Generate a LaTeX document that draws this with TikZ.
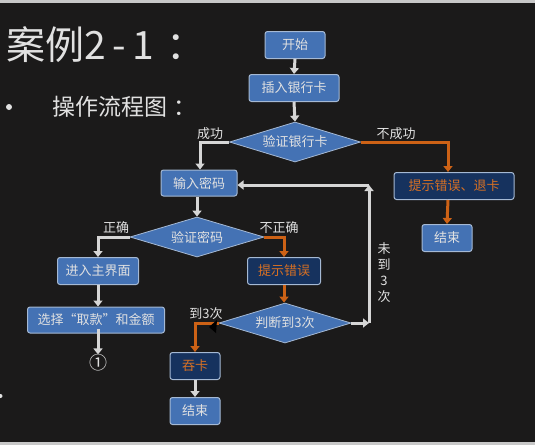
\documentclass[tikz,border=0pt]{standalone}
\usepackage{fontspec}
\newfontfamily\cjk{Noto Sans CJK SC}
\usetikzlibrary{shapes.geometric,arrows.meta}
\definecolor{bg}{RGB}{27,26,26}
\definecolor{strip}{RGB}{200,200,200}
\definecolor{nodeblue}{RGB}{68,114,180}
\definecolor{nodeborder}{RGB}{165,185,212}
\definecolor{darkblue}{RGB}{22,50,94}
\definecolor{orangetxt}{RGB}{214,112,36}
\definecolor{orangeline}{RGB}{205,98,22}
\definecolor{lightline}{RGB}{214,214,214}
\definecolor{txt}{RGB}{225,225,225}
\tikzset{
  box/.style={rectangle, rounded corners=2.5pt, fill=nodeblue, draw=nodeborder, line width=1pt,
    text=txt, font=\cjk\fontsize{13}{15}\selectfont, minimum height=27pt, inner sep=1pt},
  dbox/.style={box, fill=darkblue, text=orangetxt},
  dia/.style={diamond, aspect=3.3, fill=nodeblue, draw=nodeborder, line width=0.8pt,
    text=txt, font=\cjk\fontsize{13}{15}\selectfont, minimum width=132pt, minimum height=40pt, inner sep=0pt},
  warr/.style={draw=lightline, line width=3pt, -{Triangle[width=9pt,length=6pt]}},
  oarr/.style={draw=orangeline, line width=3pt, -{Triangle[width=9pt,length=6pt]}},
  lbl/.style={text=txt, font=\cjk\fontsize{13}{15}\selectfont, inner sep=0pt}
}
\begin{document}
\begin{tikzpicture}[x=1pt,y=-1pt]
\fill[bg] (0,0) rectangle (535,445);
\fill[strip] (0,0) rectangle (535,3);
\fill[strip] (0,442) rectangle (535,445);
\useasboundingbox (0,0) rectangle (535,445);

% title
\node[anchor=west, text=txt, font=\cjk\fontsize{39}{41}\selectfont, inner sep=0pt] (title) at (6,45) {案例2\,-\,1\kern12pt：};
\fill[txt] (9,107) circle (3pt);
\node[anchor=west, text=txt, font=\cjk\fontsize{23}{25}\selectfont, inner sep=0pt] (sub) at (52,107) {操作流程图\kern6pt：};
\fill[txt] (0.5,396) circle (2pt);

% nodes
\node[box, minimum width=60pt] (start) at (295,45) {开始};
\node[box, minimum width=90pt] (insert) at (294,88) {插入银行卡};
\node[dia, minimum width=131pt] (vcard) at (295,142) {验证银行卡};
\node[dbox, minimum width=120pt] (err1) at (454,186) {提示错误、退卡};
\node[box, minimum width=50pt] (end1) at (447,238) {结束};
\node[box, minimum width=76pt, minimum height=26pt] (pwd) at (199,183) {输入密码};
\node[dia, minimum width=134pt] (vpwd) at (197,237) {验证密码};
\node[box, minimum width=81pt] (main) at (98,271) {进入主界面};
\node[dbox, minimum width=73pt] (err2) at (284,271) {提示错误};
\node[dia] (judge) at (285,323) {判断到3次};
\node[dbox, minimum width=50pt] (eat) at (195,366) {吞卡};
\node[box, minimum width=50pt] (end2) at (195,411) {结束};
\node[box, minimum width=137pt, minimum height=26pt] (sel) at (96,320) {选择“取款”和金额};
\node[text=txt, font=\cjk\fontsize{18}{20}\selectfont, inner sep=0pt] (c1) at (98,363) {①};

% labels
\node[lbl] (lsucc) at (210,134) {成功};
\node[lbl] (lfail) at (396,134) {不成功};
\node[lbl] (lok) at (116,228) {正确};
\node[lbl] (lnok) at (279,228) {不正确};
\node[lbl] (l3) at (206,314) {到3次};
\node[lbl, align=center, font=\cjk\fontsize{13}{16}\selectfont] (ln3) at (384,273) {未\\到\\3\\次};

% connectors
\draw[warr] (start.south) -- (insert.north);
\draw[warr] (insert.south) -- (vcard.north);
\draw[warr] (vcard.west) -| ([xshift=1pt]pwd.north);
\draw[oarr] (vcard.east) -| ([xshift=-6pt]err1.north);
\draw[oarr] ([xshift=-6pt]err1.south) -- (end1.north);
\draw[warr] (vpwd.north |- pwd.south) -- (vpwd.north);
\draw[warr] (vpwd.west) -| (main.north);
\draw[oarr] (vpwd.east) -| (err2.north);
\draw[oarr] (err2.south) -- (err2.south |- judge.north);
\coordinate (lr) at (369,323);
\coordinate (ur) at (369,185);
\draw[warr] (judge.east) -- (lr);
\draw[warr] (lr) -- (ur);
\draw[warr] (ur) -- (pwd.east |- ur);
\draw[oarr] (judge.west) -| (eat.north);
\fill[black] (209,327) -- (217,320) -- (216,333) -- cycle;
\draw[warr] (eat.south) -- (end2.north);
\draw[warr] (main.south) -- (main.south |- sel.north);
\draw[warr] ([yshift=5pt]sel.south -| c1) -- (c1.north);
\end{tikzpicture}
\end{document}
